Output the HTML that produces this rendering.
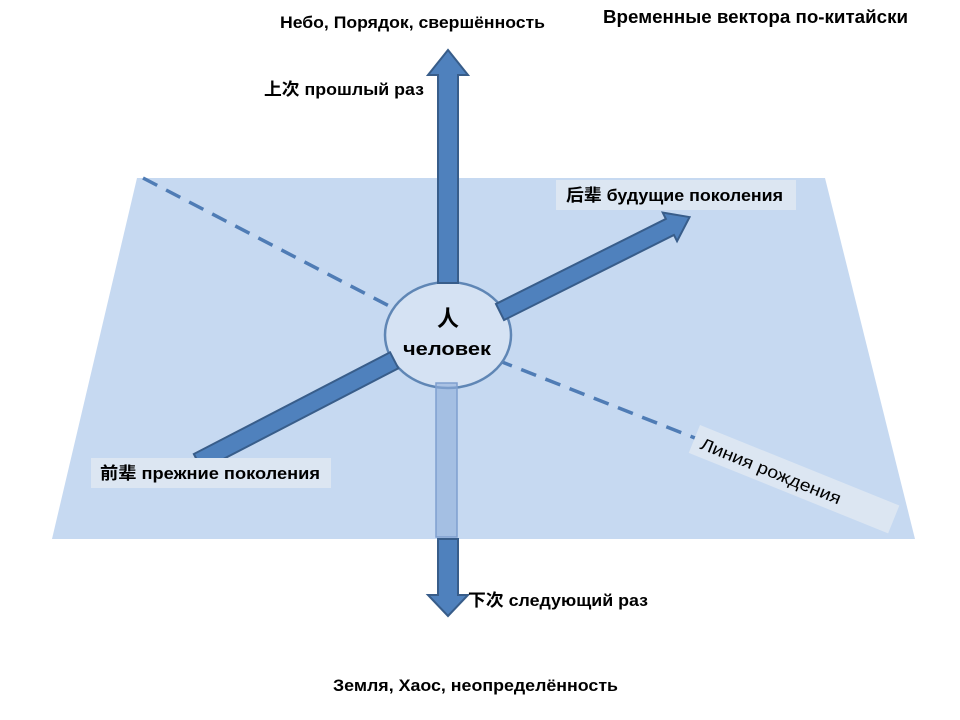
<!DOCTYPE html>
<html><head><meta charset="utf-8"><style>
body{margin:0;background:#fff}
svg{display:block}
text{font-family:"Liberation Sans","Noto Sans CJK SC",sans-serif;font-weight:bold;fill:#000}
text.n{font-weight:normal}
</style></head><body>
<svg width="960" height="720" viewBox="0 0 960 720" xmlns="http://www.w3.org/2000/svg">
<polygon points="137,178 825,178 915,539 52,539" fill="#c6d9f1"/>
<line x1="143" y1="178" x2="393" y2="308" stroke="#4f7cb5" stroke-width="3.5" stroke-dasharray="16,10"/>
<line x1="497" y1="360" x2="700" y2="440" stroke="#4f7cb5" stroke-width="3.5" stroke-dasharray="16,10"/>
<ellipse cx="448" cy="335" rx="63" ry="53" fill="#d5e2f3" stroke="#5f86b5" stroke-width="2.5"/>
<polygon points="438,283 458,283 458,75 468,75 448,50 428,75 438,75" fill="#4f81bd" stroke="#385d8a" stroke-width="2"/>
<polygon points="438,539 458,539 458,595 468,595 448,616 428,595 438,595" fill="#4f81bd" stroke="#385d8a" stroke-width="2"/>
<rect x="436" y="383" width="21" height="154" fill="#8eaedb" fill-opacity="0.6" stroke="#7f9fcf" stroke-width="1.5"/>
<g transform="translate(500,312) rotate(-26.6)">
<polygon points="0,-9 190,-9 190,-16 212,0 190,16 190,9 0,9" fill="#4f81bd" stroke="#385d8a" stroke-width="2"/>
</g>
<g transform="translate(198,462) rotate(-27.4)">
<rect x="0" y="-9" width="221" height="18" fill="#4f81bd" stroke="#385d8a" stroke-width="2"/>
</g>
<text x="448" y="326" font-size="22" text-anchor="middle" font-family="Noto Serif CJK SC,serif">人</text>
<text x="403" y="355" font-size="18" textLength="88" lengthAdjust="spacingAndGlyphs">человек</text>
<rect x="556" y="180" width="240" height="30" fill="#dce6f2"/>
<text x="566" y="201" font-size="17" textLength="217" lengthAdjust="spacingAndGlyphs">后辈 будущие поколения</text>
<rect x="91" y="458" width="240" height="30" fill="#dce6f2"/>
<text x="100" y="479" font-size="17" textLength="220" lengthAdjust="spacingAndGlyphs">前辈 прежние поколения</text>
<g transform="translate(700,425) rotate(22)">
<rect x="0" y="0" width="215" height="30" fill="#dce6f2"/>
<text class="n" x="8" y="22" font-size="17" textLength="150" lengthAdjust="spacingAndGlyphs">Линия рождения</text>
</g>
<text x="280" y="28" font-size="17" textLength="265" lengthAdjust="spacingAndGlyphs">Небо, Порядок, свершённость</text>
<text x="603" y="23" font-size="18" textLength="305" lengthAdjust="spacingAndGlyphs">Временные вектора по-китайски</text>
<text x="264" y="95" font-size="17" textLength="160" lengthAdjust="spacingAndGlyphs">上次 прошлый раз</text>
<text x="468" y="606" font-size="17" textLength="180" lengthAdjust="spacingAndGlyphs">下次 следующий раз</text>
<text x="333" y="691" font-size="17" textLength="285" lengthAdjust="spacingAndGlyphs">Земля, Хаос, неопределённость</text>
</svg>
</body></html>
